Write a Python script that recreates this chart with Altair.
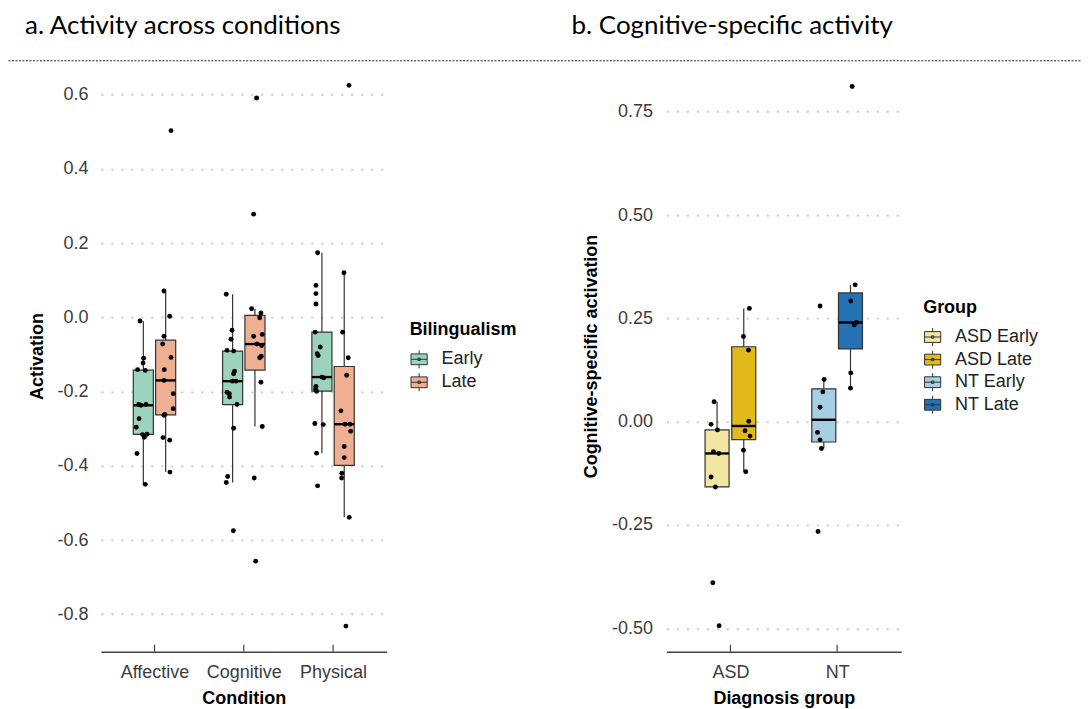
import json
import altair as alt
import numpy as np
import pandas as pd

# ---------------- panel a : activity across conditions ----------------
title_a = "a. Activity across conditions"
conditions = ["Affective", "Cognitive", "Physical"]
bilingualism = ["Early", "Late"]
colors_a = ["#9BD3BE", "#EFAF93"]
y_ticks_a = [-0.8, -0.6, -0.4, -0.2, 0.0, 0.2, 0.4, 0.6]

affective_early = [-0.010, -0.110, -0.123, -0.141, -0.143, -0.235, -0.235, -0.237,
                   -0.273, -0.296, -0.315, -0.316, -0.323, -0.367, -0.450]
affective_early_jit = [-0.037, 0.003, -0.003, -0.064, 0.022, -0.053, 0.030, -0.026,
                       -0.048, -0.079, 0.042, -0.008, 0.011, -0.071, 0.022]
affective_late = [0.503, 0.071, 0.003, -0.051, -0.072, -0.108, -0.141, -0.170,
                  -0.206, -0.246, -0.262, -0.264, -0.324, -0.331, -0.417]
affective_late_jit = [0.060, -0.019, 0.045, -0.019, -0.034, 0.060, -0.016, -0.019,
                      0.085, 0.085, -0.008, -0.019, -0.030, 0.045, 0.048]
cognitive_early = [0.062, -0.035, -0.059, -0.089, -0.091, -0.145, -0.152, -0.172, -0.172,
                   -0.202, -0.206, -0.215, -0.235, -0.299, -0.429, -0.445, -0.575]
cognitive_early_jit = [-0.071, -0.007, -0.018, -0.063, 0.011, 0.022, 0.011, 0.038, -0.003,
                       -0.063, -0.037, -0.034, 0.049, 0.011, -0.056, -0.071, 0.008]
cognitive_late = [0.591, 0.278, 0.023, 0.012, -0.001, -0.046, -0.051, -0.072,
                  -0.076, -0.105, -0.109, -0.175, -0.294, -0.433, -0.657]
cognitive_late_jit = [0.019, -0.015, -0.037, 0.067, 0.053, 0.082, -0.015, 0.022,
                      0.075, 0.071, 0.053, 0.067, 0.082, -0.008, 0.008]
physical_early = [0.174, 0.086, 0.064, 0.036, -0.040, -0.080, -0.098, -0.103, -0.161,
                  -0.163, -0.186, -0.193, -0.199, -0.286, -0.289, -0.366, -0.454]
physical_early_jit = [-0.048, -0.067, -0.067, -0.067, -0.075, -0.019, -0.053, -0.042, 0.000,
                      0.022, -0.067, -0.071, -0.060, -0.079, 0.015, -0.060, -0.048]
physical_late = [0.625, 0.120, -0.040, -0.109, -0.156, -0.252, -0.288, -0.288,
                 -0.307, -0.348, -0.378, -0.420, -0.433, -0.539, -0.832]
physical_late_jit = [0.053, -0.003, -0.018, 0.045, 0.027, -0.037, 0.008, 0.064,
                     0.072, 0.000, 0.000, -0.026, -0.029, 0.056, 0.019]

# ---------------- panel b : cognitive-specific activity ----------------
title_b = "b. Cognitive-specific activity"
diagnosis = ["ASD", "NT"]
groups_b = ["ASD Early", "ASD Late", "NT Early", "NT Late"]
colors_b = ["#F2E6A2", "#E2B91B", "#A6CFE1", "#2472B4"]
y_ticks_b = [-0.5, -0.25, 0.0, 0.25, 0.5, 0.75]

asd_early = [0.048, -0.0065, -0.020, -0.073, -0.077, -0.134, -0.158, -0.390, -0.494]
asd_early_jit = [-0.028, -0.056, 0.003, -0.035, 0.016, -0.056, -0.016, -0.040, 0.019]
asd_late = [0.274, 0.206, 0.173, 0.001, -0.022, -0.035, -0.069, -0.121]
asd_late_jit = [0.053, -0.003, 0.044, 0.047, 0.012, 0.059, -0.003, 0.019]
nt_early = [0.280, 0.102, 0.072, 0.035, -0.026, -0.044, -0.065, -0.266]
nt_early_jit = [-0.035, 0.003, -0.009, -0.035, -0.059, -0.035, -0.022, -0.054]
nt_late = [0.811, 0.331, 0.292, 0.240, 0.234, 0.118, 0.081]
nt_late_jit = [0.016, 0.044, 0.003, 0.056, 0.035, 0.003, 0.000]

# ---------------- helpers ----------------
DODGE = 0.125
HALF_BOX = 0.1125


def box_stats(vals):
    a = np.asarray(vals, dtype=float)
    q1, med, q3 = np.percentile(a, [25, 50, 75])
    iqr = q3 - q1
    lo = a[a >= q1 - 1.5 * iqr].min()
    hi = a[a <= q3 + 1.5 * iqr].max()
    return q1, med, q3, lo, hi


def build(series):
    pts, boxes = [], []
    for ci, grp, sgn, vals, jit in series:
        xc = ci + sgn * DODGE
        q1, med, q3, lo, hi = box_stats(vals)
        boxes.append(dict(group=grp, xc=xc, x_lo=xc - HALF_BOX, x_hi=xc + HALF_BOX,
                          q1=q1, med=med, q3=q3, wlo=lo, whi=hi))
        for v, j in zip(vals, jit):
            pts.append(dict(group=grp, x=xc + j, value=v))
    return pd.DataFrame(pts), pd.DataFrame(boxes)


series_a = [
    (1, "Early", -1, affective_early, affective_early_jit),
    (1, "Late", 1, affective_late, affective_late_jit),
    (2, "Early", -1, cognitive_early, cognitive_early_jit),
    (2, "Late", 1, cognitive_late, cognitive_late_jit),
    (3, "Early", -1, physical_early, physical_early_jit),
    (3, "Late", 1, physical_late, physical_late_jit),
]
series_b = [
    (1, "ASD Early", -1, asd_early, asd_early_jit),
    (1, "ASD Late", 1, asd_late, asd_late_jit),
    (2, "NT Early", -1, nt_early, nt_early_jit),
    (2, "NT Late", 1, nt_late, nt_late_jit),
]
pts_a, boxes_a = build(series_a)
pts_b, boxes_b = build(series_b)

SANS = "Liberation Sans"
GLYPH = ("M-0.9,-0.6H0.9V0.6H-0.9Z M0,-1V-0.6 M0,0.6V1 M-0.9,0H0.9 "
         "M-0.13,-0.13H0.13V0.13H-0.13Z")


def neg_fmt(fmt):
    return (f"datum.value < 0 ? '-' + format(-datum.value, '{fmt}') : "
            f"format(datum.value, '{fmt}')")


def panel(pts, boxes, cats, groups, colors, ydom, yticks, yfmt, width, height,
          xtitle, ytitle, ytitle_x, ylabel_pad, legend_title, legend_x, legend_y,
          row_pad, title_text, title_x, extra=None):
    xs = alt.Scale(domain=[0.4, len(cats) + 0.6], nice=False, zero=False)
    ys = alt.Scale(domain=ydom, nice=False, zero=False)
    xaxis = alt.Axis(values=list(range(1, len(cats) + 1)),
                     labelExpr=json.dumps(cats) + "[datum.value - 1]",
                     title=xtitle, grid=False, ticks=False, tickSize=0,
                     domain=True, domainColor="#444444", domainWidth=1.3,
                     labelPadding=26, labelBaseline="alphabetic", labelFontSize=18,
                     labelColor="#3c3c3c", labelFont=SANS,
                     titleFont=SANS, titleFontSize=18, titleFontWeight="bold",
                     titleColor="black", titleY=52, titleBaseline="alphabetic")
    yaxis = alt.Axis(values=yticks, labelExpr=neg_fmt(yfmt), title=ytitle,
                     grid=True, gridColor="#c6c6c6", gridDash=[2, 8], gridWidth=1.8,
                     domain=False, ticks=False, tickSize=0, labelPadding=ylabel_pad,
                     labelFontSize=18, labelColor="#3c3c3c", labelFont=SANS,
                     titleFont=SANS, titleFontSize=18, titleFontWeight="bold",
                     titleColor="black", titleX=ytitle_x, titleBaseline="middle")
    legend = alt.Legend(title=legend_title, orient="none", legendX=legend_x,
                        legendY=legend_y, direction="vertical", symbolType=GLYPH,
                        symbolSize=324, symbolStrokeColor="#333333",
                        symbolStrokeWidth=1, symbolOpacity=1, labelFontSize=18,
                        labelFont=SANS, labelColor="#222222", titleFont=SANS,
                        titleFontSize=18, titleFontWeight="bold", titleColor="black",
                        labelOffset=13, rowPadding=row_pad, titlePadding=11, padding=0)

    whisk = alt.Chart(boxes).mark_rule(color="#333333", strokeWidth=1.2).encode(
        x=alt.X("xc:Q", scale=xs, axis=xaxis),
        y=alt.Y("wlo:Q", scale=ys, axis=yaxis), y2="whi:Q")
    box = alt.Chart(boxes).mark_bar(stroke="#333333", strokeWidth=1.2, opacity=1).encode(
        x=alt.X("x_lo:Q", scale=xs, axis=xaxis), x2="x_hi:Q",
        y=alt.Y("q1:Q", scale=ys, axis=yaxis), y2="q3:Q",
        fill=alt.Fill("group:N", scale=alt.Scale(domain=groups, range=colors),
                      legend=legend))
    med = alt.Chart(boxes).mark_rule(color="black", strokeWidth=2.4).encode(
        x=alt.X("x_lo:Q", scale=xs, axis=xaxis), x2="x_hi:Q",
        y=alt.Y("med:Q", scale=ys, axis=yaxis))
    dots = alt.Chart(pts).mark_circle(color="black", size=24, opacity=1).encode(
        x=alt.X("x:Q", scale=xs, axis=xaxis), y=alt.Y("value:Q", scale=ys, axis=yaxis))
    ticks = alt.Chart(pd.DataFrame({"pos": list(range(1, len(cats) + 1))})).mark_rule(
        color="#444444", strokeWidth=1.2).encode(
        x=alt.X("pos:Q", scale=xs, axis=xaxis),
        y=alt.value(height - 7), y2=alt.value(height))
    ttl = alt.Chart(pd.DataFrame({"t": [title_text]})).mark_text(
        font="Lato", fontSize=26, align="left", baseline="alphabetic",
        color="black").encode(x=alt.value(title_x), y=alt.value(-26.3), text="t:N")
    layers = [whisk, box, med, dots, ticks, ttl]
    if extra:
        layers += extra
    return alt.layer(*layers).properties(width=width, height=height)


one = pd.DataFrame({"a": [0]})
separator = alt.Chart(one).mark_rule(color="#222222", strokeWidth=1,
                                     strokeDash=[2, 1.5]).encode(
    x=alt.value(-92.5), x2=alt.value(982), y=alt.value(0.5))
anchor = alt.Chart(one).mark_rule(color="white", strokeWidth=1).encode(
    x=alt.value(-92.5), x2=alt.value(-86), y=alt.value(-51.5))

left = panel(pts_a, boxes_a, conditions, bilingualism, colors_a,
             [-0.901, 0.6926], y_ticks_a, ".1f", 286, 592,
             "Condition", "Activation", -63, 13, "Bilingualism", 309, 260.8, 0,
             title_a, -76, extra=[separator, anchor])
right = panel(pts_b, boxes_b, diagnosis, groups_b, colors_b,
              [-0.5568, 0.8745], y_ticks_b, ".2f", 235, 592,
              "Diagnosis group", "Cognitive-specific activation", -75, 14, "Group",
              257, 238.5, -0.4, title_b, -95)

chart = alt.hconcat(left, right, spacing=280, bounds="flush").resolve_scale(
    x="independent", y="independent", fill="independent"
).properties(
    padding=0, autosize=alt.AutoSizeParams(type="pad")
).configure(font=SANS).configure_view(stroke=None)

chart.save("out.html", embed_options={"renderer": "svg", "actions": False})
